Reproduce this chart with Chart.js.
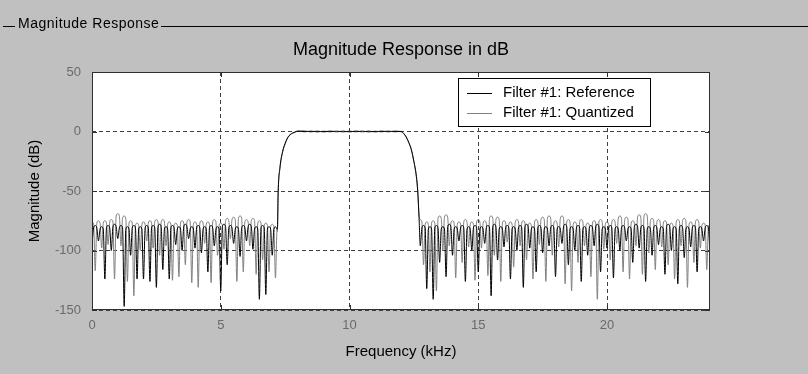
<!DOCTYPE html>
<html lang="en">
<head>
<meta charset="UTF-8">
<title>Magnitude Response</title>
<script src="https://cdn.jsdelivr.net/npm/chart.js@4.4.0/dist/chart.umd.min.js"></script>
<style>
  html, body { margin: 0; padding: 0; background: #c0c0c0; }
  #wrap { width: 808px; height: 374px; }
</style>
</head>
<body>
<div id="wrap"><canvas id="myChart" width="808" height="374"></canvas></div>
<script>
// frequency grid (kHz): lower stopband, transition, passband, transition, upper stopband
const freqKHz = [
  0, 0.0625, 0.125, 0.1875, 0.25, 0.3125, 0.375, 0.4375, 0.5, 0.5625, 0.625, 0.6875, 0.75, 0.8125, 0.875, 0.9375,
  1, 1.0625, 1.125, 1.1875, 1.25, 1.3125, 1.375, 1.4375, 1.5, 1.5625, 1.625, 1.6875, 1.75, 1.8125, 1.875, 1.9375,
  2, 2.0625, 2.125, 2.1875, 2.25, 2.3125, 2.375, 2.4375, 2.5, 2.5625, 2.625, 2.6875, 2.75, 2.8125, 2.875, 2.9375,
  3, 3.0625, 3.125, 3.1875, 3.25, 3.3125, 3.375, 3.4375, 3.5, 3.5625, 3.625, 3.6875, 3.75, 3.8125, 3.875, 3.9375,
  4, 4.0625, 4.125, 4.1875, 4.25, 4.3125, 4.375, 4.4375, 4.5, 4.5625, 4.625, 4.6875, 4.75, 4.8125, 4.875, 4.9375,
  5, 5.0625, 5.125, 5.1875, 5.25, 5.3125, 5.375, 5.4375, 5.5, 5.5625, 5.625, 5.6875, 5.75, 5.8125, 5.875, 5.9375,
  6, 6.0625, 6.125, 6.1875, 6.25, 6.3125, 6.375, 6.4375, 6.5, 6.5625, 6.625, 6.6875, 6.75, 6.8125, 6.875, 6.9375,
  7, 7.0625, 7.125, 7.1875,
  7.2, 7.23, 7.3, 7.4, 7.5, 7.6, 7.7, 7.8, 7.9, 8,
  8.25, 8.5, 8.75, 9, 9.25, 9.5, 9.75, 10, 10.25, 10.5, 10.75, 11, 11.25, 11.5, 11.75, 12,
  12.1, 12.2, 12.3, 12.4, 12.5, 12.6, 12.65, 12.7,
  12.75, 12.8125, 12.875, 12.9375, 13, 13.0625, 13.125, 13.1875, 13.25, 13.3125, 13.375, 13.4375, 13.5, 13.5625, 13.625, 13.6875,
  13.75, 13.8125, 13.875, 13.9375, 14, 14.0625, 14.125, 14.1875, 14.25, 14.3125, 14.375, 14.4375, 14.5, 14.5625, 14.625, 14.6875,
  14.75, 14.8125, 14.875, 14.9375, 15, 15.0625, 15.125, 15.1875, 15.25, 15.3125, 15.375, 15.4375, 15.5, 15.5625, 15.625, 15.6875,
  15.75, 15.8125, 15.875, 15.9375, 16, 16.0625, 16.125, 16.1875, 16.25, 16.3125, 16.375, 16.4375, 16.5, 16.5625, 16.625, 16.6875,
  16.75, 16.8125, 16.875, 16.9375, 17, 17.0625, 17.125, 17.1875, 17.25, 17.3125, 17.375, 17.4375, 17.5, 17.5625, 17.625, 17.6875,
  17.75, 17.8125, 17.875, 17.9375, 18, 18.0625, 18.125, 18.1875, 18.25, 18.3125, 18.375, 18.4375, 18.5, 18.5625, 18.625, 18.6875,
  18.75, 18.8125, 18.875, 18.9375, 19, 19.0625, 19.125, 19.1875, 19.25, 19.3125, 19.375, 19.4375, 19.5, 19.5625, 19.625, 19.6875,
  19.75, 19.8125, 19.875, 19.9375, 20, 20.0625, 20.125, 20.1875, 20.25, 20.3125, 20.375, 20.4375, 20.5, 20.5625, 20.625, 20.6875,
  20.75, 20.8125, 20.875, 20.9375, 21, 21.0625, 21.125, 21.1875, 21.25, 21.3125, 21.375, 21.4375, 21.5, 21.5625, 21.625, 21.6875,
  21.75, 21.8125, 21.875, 21.9375, 22, 22.0625, 22.125, 22.1875, 22.25, 22.3125, 22.375, 22.4375, 22.5, 22.5625, 22.625, 22.6875,
  22.75, 22.8125, 22.875, 22.9375, 23, 23.0625, 23.125, 23.1875, 23.25, 23.3125, 23.375, 23.4375, 23.5, 23.5625, 23.625, 23.6875,
  23.75, 23.8125, 23.875, 23.9375, 24
]

// Filter #1: Reference (dB)
const refDb = [
  -95, -81, -79, -81, -92, -82, -80, -82, -124, -81, -79, -81, -100, -80, -78, -80,
  -90, -81, -79, -81, -147, -82, -80, -82, -104, -81, -79, -81, -124, -82, -80, -82,
  -124, -81, -79, -81, -126, -81, -79, -81, -131, -80, -78, -80, -116, -82, -80, -82,
  -124, -81, -79, -81, -95, -82, -80, -82, -100, -80, -78, -80, -90, -82, -80, -82,
  -98, -81, -79, -81, -102, -82, -80, -82, -118, -81, -79, -81, -96, -82, -80, -82,
  -134, -80, -78, -80, -112, -81, -79, -81, -94, -82, -80, -82, -105, -81, -79, -81,
  -92, -80, -78, -80, -99, -82, -80, -82, -141, -81, -79, -81, -137, -82, -80, -82,
  -104, -82, -80, -82,
  -82, -50, -30, -17, -10, -5, -2.5, -1.2, -0.4, 0.2,
  -0.2, 0.3, -0.3, 0.2, -0.2, 0.3, -0.3, 0.2, -0.2, 0.3, -0.3, 0.2, -0.2, 0.3, -0.2, 0.1,
  -1.5, -4.5, -9, -15, -25, -38, -50, -72,
  -96, -81, -79, -81, -132, -82, -80, -82, -141, -81, -79, -81, -110, -82, -80, -82,
  -122, -80, -78, -80, -104, -82, -80, -82, -92, -81, -79, -81, -126, -82, -80, -82,
  -100, -81, -79, -81, -118, -82, -80, -82, -94, -81, -79, -81, -138, -80, -78, -80,
  -108, -82, -80, -82, -97, -81, -79, -81, -124, -82, -80, -82, -100, -81, -79, -81,
  -131, -80, -78, -80, -98, -82, -80, -82, -118, -81, -79, -81, -102, -82, -80, -82,
  -96, -81, -79, -81, -122, -82, -80, -82, -94, -80, -78, -80, -112, -82, -80, -82,
  -100, -81, -79, -81, -126, -82, -80, -82, -104, -81, -79, -81, -96, -80, -78, -80,
  -118, -82, -80, -82, -98, -81, -79, -81, -123, -82, -80, -82, -100, -81, -79, -81,
  -92, -82, -80, -82, -110, -80, -78, -80, -98, -81, -79, -81, -126, -82, -80, -82,
  -104, -81, -79, -81, -95, -82, -80, -82, -120, -80, -78, -80, -100, -82, -80, -82,
  -128, -81, -79, -81, -106, -82, -80, -82, -97, -81, -79, -81, -118, -82, -80, -82,
  -92, -81, -79, -81, -102
]

// Filter #1: Quantized (dB)
const quantDb = [
  -76, -78, -117, -77, -75, -77, -98, -77, -75, -77, -95, -76, -74, -76, -124, -71,
  -69, -71, -96, -73, -71, -73, -126, -77, -75, -77, -138, -79, -77, -79, -100, -78,
  -76, -78, -92, -77, -75, -77, -98, -76, -74, -76, -104, -76, -74, -76, -96, -78,
  -76, -78, -125, -79, -77, -79, -122, -77, -75, -77, -112, -76, -74, -76, -127, -78,
  -76, -78, -131, -77, -75, -77, -94, -78, -76, -78, -127, -76, -74, -76, -104, -79,
  -77, -79, -99, -75, -73, -75, -90, -74, -72, -74, -126, -73, -71, -73, -118, -76,
  -74, -76, -96, -75, -73, -75, -120, -77, -75, -77, -108, -79, -77, -79, -118, -80,
  -78, -80, -123, -82,
  -84, -52, -31, -17.5, -10.5, -5.5, -2.8, -1.3, -0.2, 0.6,
  0.7, -0.5, 0.6, -0.6, 0.7, -0.5, 0.6, -0.6, 0.7, -0.5, 0.6, -0.6, 0.7, -0.5, 0.6, -0.3,
  -1.7, -4.8, -9.5, -15.5, -25.5, -39, -51, -70,
  -74, -76, -112, -78, -76, -78, -118, -77, -75, -77, -134, -73, -71, -73, -100, -72,
  -70, -72, -96, -77, -75, -77, -123, -78, -76, -78, -110, -76, -74, -76, -97, -78,
  -76, -78, -125, -76, -74, -76, -98, -77, -75, -77, -121, -73, -71, -73, -104, -74,
  -72, -74, -126, -77, -75, -77, -93, -78, -76, -78, -114, -76, -74, -76, -96, -77,
  -75, -77, -108, -79, -77, -79, -124, -76, -74, -76, -95, -74, -72, -74, -126, -73,
  -71, -73, -104, -77, -75, -77, -97, -73, -71, -73, -128, -76, -74, -76, -134, -78,
  -76, -78, -110, -76, -74, -76, -96, -79, -77, -79, -122, -77, -75, -77, -141, -76,
  -74, -76, -99, -78, -76, -78, -108, -76, -74, -76, -94, -73, -71, -73, -118, -74,
  -72, -74, -124, -77, -75, -77, -96, -72, -70, -72, -120, -71, -69, -71, -102, -75,
  -73, -75, -116, -76, -74, -76, -97, -77, -75, -77, -112, -79, -77, -79, -124, -76,
  -74, -76, -96, -75, -73, -75, -131, -78, -76, -78, -110, -76, -74, -76, -98, -79,
  -77, -79, -116, -80, -78
]

const xTicks = [0, 5, 10, 15, 20]
const yTicks = [-150, -100, -50, 0, 50]

const FONT = '"Liberation Sans", Arial, Helvetica, sans-serif'
const GRID = '#404040'

// gray panel, white axes, group-box caption, title, frame and legend
const panelPlugin = {
  id: 'panel',
  beforeDraw(chart) {
    const { ctx, chartArea: a } = chart
    ctx.save()
    ctx.fillStyle = '#c0c0c0'
    ctx.fillRect(0, 0, chart.width, chart.height)
    ctx.fillStyle = '#ffffff'
    ctx.fillRect(a.left, a.top, a.right - a.left, a.bottom - a.top)

    ctx.fillStyle = '#000000'
    ctx.textBaseline = 'middle'
    ctx.font = '14px ' + FONT
    ctx.letterSpacing = '0.5px'
    ctx.fillText('Magnitude Response', 18, 24)
    const w = ctx.measureText('Magnitude Response').width
    ctx.letterSpacing = '0px'
    ctx.fillRect(3, 26, 12, 1)
    ctx.fillRect(Math.round(18 + w + 2), 26, chart.width, 1)

    ctx.font = '18px ' + FONT
    ctx.textAlign = 'center'
    ctx.fillText('Magnitude Response in dB', (a.left + a.right) / 2, 50)
    ctx.restore()
  },
  afterDraw(chart) {
    const { ctx, chartArea: a } = chart
    const xs = chart.scales.x, ys = chart.scales.y
    ctx.save()
    ctx.strokeStyle = '#303030'
    ctx.lineWidth = 1
    ctx.strokeRect(a.left + 0.5, a.top + 0.5, a.right - a.left - 1, a.bottom - a.top - 1)
    // inward tick marks
    ctx.beginPath()
    xTicks.forEach(v => {
      const px = Math.round(xs.getPixelForValue(v)) + 0.5
      ctx.moveTo(px, a.bottom); ctx.lineTo(px, a.bottom - 5)
      ctx.moveTo(px, a.top); ctx.lineTo(px, a.top + 5)
    })
    yTicks.forEach(v => {
      const py = Math.round(ys.getPixelForValue(v)) + 0.5
      ctx.moveTo(a.left, py); ctx.lineTo(a.left + 5, py)
      ctx.moveTo(a.right, py); ctx.lineTo(a.right - 5, py)
    })
    ctx.stroke()

    // legend box inside the axes
    const bx = 458, by = 78, bw = 193, bh = 49
    ctx.fillStyle = '#ffffff'
    ctx.fillRect(bx, by, bw, bh)
    ctx.strokeStyle = '#000000'
    ctx.strokeRect(bx + 0.5, by + 0.5, bw - 1, bh - 1)
    ctx.font = '15px ' + FONT
    ctx.textBaseline = 'middle'
    chart.data.datasets.forEach((ds, i) => {
      const ly = by + 15 + i * 20
      ctx.strokeStyle = ds.borderColor
      ctx.beginPath()
      ctx.moveTo(bx + 9, ly + 0.5)
      ctx.lineTo(bx + 34, ly + 0.5)
      ctx.stroke()
      ctx.fillStyle = '#000000'
      ctx.fillText(ds.label, bx + 45, ly)
    })
    ctx.restore()
  }
}

const data = {
  datasets: [
    {
      label: 'Filter #1: Reference',
      data: freqKHz.map((f, i) => ({ x: f, y: refDb[i] })),
      borderColor: '#000000',
      borderWidth: 1,
      pointRadius: 0,
      cubicInterpolationMode: 'monotone'
    },
    {
      label: 'Filter #1: Quantized',
      data: freqKHz.map((f, i) => ({ x: f, y: quantDb[i] })),
      borderColor: '#808080',
      borderWidth: 1,
      pointRadius: 0,
      cubicInterpolationMode: 'monotone'
    }
  ]
}

const config = {
  type: 'line',
  data,
  plugins: [panelPlugin],
  options: {
    responsive: false,
    animation: false,
    devicePixelRatio: 1,
    layout: { padding: { left: 0, right: 98, top: 72, bottom: 0 } },
    plugins: {
      legend: { display: false },
      tooltip: { enabled: false },
      title: { display: false }
    },
    scales: {
      x: {
        type: 'linear',
        min: 0,
        max: 24,
        afterBuildTicks: s => { s.ticks = xTicks.map(v => ({ value: v })) },
        afterFit: s => { s.height = 64 },
        ticks: { color: '#6a6a6a', padding: 8, font: { family: FONT, size: 13 } },
        grid: { color: GRID, drawTicks: false },
        border: { display: false, dash: [4, 3] },
        title: {
          display: true,
          text: 'Frequency (kHz)',
          color: '#000000',
          font: { family: FONT, size: 15 },
          padding: { top: 13, bottom: 13 }
        }
      },
      y: {
        min: -150,
        max: 50,
        afterBuildTicks: s => { s.ticks = yTicks.map(v => ({ value: v })) },
        afterFit: s => { s.width = 92 },
        ticks: { color: '#6a6a6a', padding: 11, font: { family: FONT, size: 13 } },
        grid: { color: GRID, drawTicks: false },
        border: { display: false, dash: [4, 3] },
        title: {
          display: true,
          text: 'Magnitude (dB)',
          color: '#000000',
          font: { family: FONT, size: 15 },
          padding: { top: 26, bottom: 26 }
        }
      }
    }
  }
}

var myChart = new Chart(document.getElementById('myChart'), config)
</script>
</body>
</html>
